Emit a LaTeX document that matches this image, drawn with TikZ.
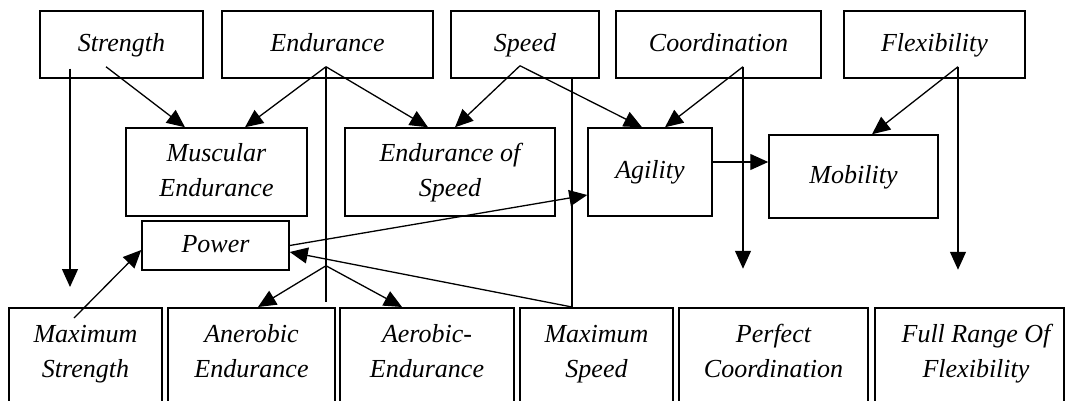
\documentclass[tikz,border=0pt]{standalone}
\usepackage{fontspec}
\setmainfont{Liberation Serif}
\usetikzlibrary{arrows.meta}
\begin{document}
\begin{tikzpicture}[x=1pt,y=-1pt,
  box/.style={draw, line width=1.5pt, inner sep=0pt, align=center, font=\fontsize{26}{35}\selectfont\itshape},
  lbl/.style={inner sep=0pt, align=center, font=\fontsize{26}{35}\selectfont\itshape},
  conn/.style={line width=1.3pt},
  arr/.style={conn, -{Triangle[length=18pt,width=16pt]}}]
\useasboundingbox (0,0) rectangle (1066,401);
\clip (0,0) rectangle (1066,401);
% top row
\node[box, minimum width=163pt, minimum height=67pt] (strength) at (121.5,44.5) {\strut Strength};
\node[box, minimum width=211pt, minimum height=67pt] (endurance) at (327.5,44.5) {\strut Endurance};
\node[box, minimum width=148pt, minimum height=67pt] (speed) at (525,44.5) {\strut Speed};
\node[box, minimum width=205pt, minimum height=67pt] (coord) at (718.5,44.5) {\strut Coordination};
\node[box, minimum width=181pt, minimum height=67pt] (flex) at (934.5,44.5) {\strut Flexibility};
% middle row
\node[box, minimum width=181pt, minimum height=88pt] (muscular) at (216.5,172) {\strut Muscular\\\strut Endurance};
\node[box, minimum width=210pt, minimum height=88pt] (endspeed) at (450,172) {\strut Endurance of\\\strut Speed};
\node[box, minimum width=124pt, minimum height=88pt] (agility) at (650,172) {\strut Agility};
\node[box, minimum width=169pt, minimum height=83pt] (mobility) at (853.5,176.5) {\strut Mobility};
\node[box, minimum width=147pt, minimum height=49pt] (power) at (215.5,245.5) {\strut Power};
% bottom row
\node[box, anchor=north, minimum width=153pt, minimum height=130pt] (maxstr) at (85.5,307) {};
\node[box, anchor=north, minimum width=167pt, minimum height=130pt] (anerobic) at (251.5,307) {};
\node[box, anchor=north, minimum width=174pt, minimum height=130pt] (aerobic) at (427,307) {};
\node[box, anchor=north, minimum width=153pt, minimum height=130pt] (maxspeed) at (596.5,307) {};
\node[box, anchor=north, minimum width=189pt, minimum height=130pt] (perfect) at (773.5,307) {};
\node[box, anchor=north, minimum width=189pt, minimum height=130pt] (fullrange) at (969.5,307) {};
\node[lbl] (tmaxstr) at (85.5,353) {\strut Maximum\\\strut Strength};
\node[lbl] (tanerobic) at (251.5,353) {\strut Anerobic\\\strut Endurance};
\node[lbl] (taerobic) at (427,353) {\strut Aerobic-\\\strut Endurance};
\node[lbl] (tmaxspeed) at (596.5,353) {\strut Maximum\\\strut Speed};
\node[lbl] (tperfect) at (773.5,353) {\strut Perfect\\\strut Coordination};
\node[lbl] (tfullrange) at (976,353) {\strut Full Range Of\\\strut Flexibility};
% free ends
\coordinate (strend) at ([xshift=-15.5pt,yshift=20pt]maxstr.north);
\coordinate (ebr) at ([xshift=-1.5pt,yshift=-187pt]endurance.south);
\coordinate (eend) at ([xshift=-1.5pt,yshift=-223pt]endurance.south);
\coordinate (cend) at ([xshift=24.5pt,yshift=-190pt]coord.south);
\coordinate (fend) at ([xshift=23.5pt,yshift=-191pt]flex.south);
% connectors
\draw[arr] ([xshift=-51.5pt,yshift=10pt]strength.south) -- (strend);
\draw[arr] ([xshift=-15.5pt,yshift=12pt]strength.south) -- ([xshift=-31.5pt]muscular.north);
\draw[arr] ([xshift=-1.5pt,yshift=12pt]endurance.south) -- ([xshift=28.5pt]muscular.north);
\draw[arr] ([xshift=-1.5pt,yshift=12pt]endurance.south) -- ([xshift=-22pt]endspeed.north);
\draw[conn] ([xshift=-1.5pt,yshift=12pt]endurance.south) -- (eend);
\draw[arr] (ebr) -- ([xshift=6.5pt]anerobic.north);
\draw[arr] (ebr) -- ([xshift=-25pt]aerobic.north);
\draw[arr] ([xshift=-5pt,yshift=13pt]speed.south) -- ([xshift=5pt]endspeed.north);
\draw[arr] ([xshift=-5pt,yshift=13pt]speed.south) -- ([xshift=-8pt]agility.north);
\draw[conn] ([xshift=47pt]speed.south) -- ([xshift=-24.5pt]maxspeed.north);
\draw[arr] ([xshift=-24.5pt]maxspeed.north) -- ([yshift=-6.5pt]power.east);
\draw[arr] (power.east) -- ([yshift=-23pt]agility.west);
\draw[arr] ([xshift=24.5pt,yshift=12pt]coord.south) -- ([xshift=15pt]agility.north);
\draw[arr] ([xshift=24.5pt,yshift=12pt]coord.south) -- (cend);
\draw[arr] ([xshift=23.5pt,yshift=12pt]flex.south) -- ([xshift=18.5pt]mobility.north);
\draw[arr] ([xshift=23.5pt,yshift=12pt]flex.south) -- (fend);
\draw[arr] ([yshift=10pt]agility.east) -- ([yshift=14.5pt]mobility.west);
\draw[arr] ([xshift=-11.5pt,yshift=-11pt]maxstr.north) -- ([yshift=-4.5pt]power.west);
\end{tikzpicture}
\end{document}
